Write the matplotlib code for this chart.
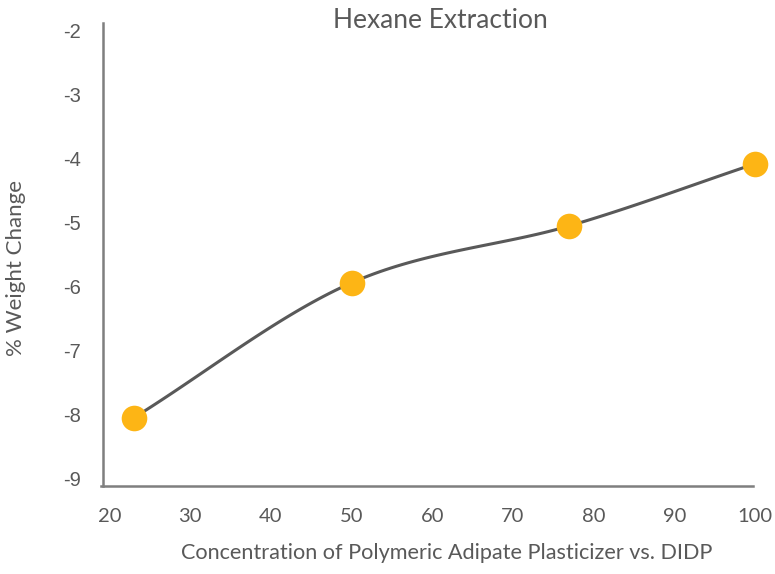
import numpy as np
import matplotlib.pyplot as plt

# data
concentration = [23, 50, 77, 100]
weight_change = [-8.06, -5.95, -5.06, -4.09]
x_ticks = [20, 30, 40, 50, 60, 70, 80, 90, 100]
y_ticks = [-9, -8, -7, -6, -5, -4, -3, -2]

text_col = '#595959'
line_col = '#595959'
dot_col = '#FDB515'


# smooth line through the points (cardinal spline, like Excel's smoothed line)
def smooth(x, y, n=40, tension=0.5):
    x = np.asarray(x, float)
    y = np.asarray(y, float)
    px = np.concatenate([[2 * x[0] - x[1]], x, [2 * x[-1] - x[-2]]])
    py = np.concatenate([[2 * y[0] - y[1]], y, [2 * y[-1] - y[-2]]])
    xs, ys = [], []
    t = np.linspace(0, 1, n)
    for i in range(1, len(px) - 2):
        mx0 = tension * (px[i + 1] - px[i - 1])
        my0 = tension * (py[i + 1] - py[i - 1])
        mx1 = tension * (px[i + 2] - px[i])
        my1 = tension * (py[i + 2] - py[i])
        h00 = 2 * t**3 - 3 * t**2 + 1
        h10 = t**3 - 2 * t**2 + t
        h01 = -2 * t**3 + 3 * t**2
        h11 = t**3 - t**2
        xs.append(h00 * px[i] + h10 * mx0 + h01 * px[i + 1] + h11 * mx1)
        ys.append(h00 * py[i] + h10 * my0 + h01 * py[i + 1] + h11 * my1)
    return np.concatenate(xs), np.concatenate(ys)


fig = plt.figure(figsize=(7.75, 5.74), dpi=100)
ax = fig.add_axes([103 / 775, 88 / 574, 652 / 775, 463 / 574])

sx, sy = smooth(concentration, weight_change)
ax.plot(sx, sy, color=line_col, lw=2.2, zorder=2)
ax.scatter(concentration, weight_change, s=340, color=dot_col, zorder=3, linewidths=0,
           clip_on=False)

ax.set_xlim(19.2, 99.8)
ax.set_ylim(-9.125, -1.89)
ax.set_xticks(x_ticks)
ax.set_yticks(y_ticks)
ax.set_xticklabels([str(v) for v in x_ticks], fontfamily='Lato', fontsize=14.5, color=text_col)
ax.set_yticklabels([str(v) for v in y_ticks], fontfamily='Liberation Sans', fontsize=14.5, color=text_col)
ax.tick_params(axis='both', length=0)
ax.tick_params(axis='x', pad=16)
ax.tick_params(axis='y', pad=16)

for s in ['top', 'right']:
    ax.spines[s].set_visible(False)
for s in ['left', 'bottom']:
    ax.spines[s].set_color('#7f7f7f')
    ax.spines[s].set_linewidth(1.8)
ax.spines['bottom'].set_bounds(18.9, 99.8)

fig.text(440 / 775, 1 - 20 / 574, 'Hexane Extraction', ha='center', va='center',
         fontfamily='Lato', fontsize=19, color=text_col)
fig.text(447 / 775, 1 - 553 / 574, 'Concentration of Polymeric Adipate Plasticizer vs. DIDP',
         ha='center', va='center', fontfamily='Lato', fontsize=15.6, color=text_col)
fig.text(16 / 775, 1 - 268 / 574, '% Weight Change', ha='center', va='center', rotation=90,
         fontfamily='Lato', fontsize=16, color=text_col)

fig.savefig('out.png', dpi=100)
